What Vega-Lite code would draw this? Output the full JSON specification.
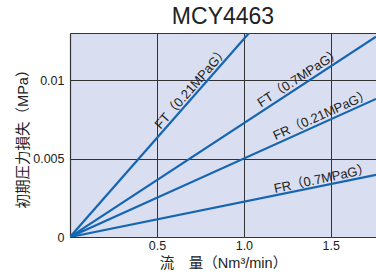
{
  "$schema": "https://vega.github.io/schema/vega-lite/v6.json",
  "autosize": "none",
  "width": 306,
  "height": 204,
  "padding": {"left": 70, "top": 33, "right": 0, "bottom": 38},
  "background": "white",
  "title": {"text": "MCY4463", "font": "Liberation Sans", "fontSize": 23, "fontWeight": "normal", "color": "#222", "offset": 4, "anchor": "middle"},
  "config": {
    "view": {"stroke": null, "fill": "#d9def0"},
    "axis": {"labelFont": "Liberation Sans", "labelFontSize": 12.5, "labelColor": "#222", "titleFont": "Liberation Sans, Noto Sans CJK JP", "titleFontSize": 14.5, "titleFontWeight": "normal", "titleColor": "#222", "gridColor": "#333", "gridWidth": 1, "gridOpacity": 1, "domainColor": "#333", "domainWidth": 1.2, "ticks": false}
  },
  "datasets": {
    "lines": [
      {"series": "FT 0.21", "q": 0, "p": 0},
      {"series": "FT 0.21", "q": 1.03, "p": 0.013},
      {"series": "FT 0.7", "q": 0, "p": 0},
      {"series": "FT 0.7", "q": 1.76, "p": 0.01276},
      {"series": "FR 0.21", "q": 0, "p": 0},
      {"series": "FR 0.21", "q": 1.76, "p": 0.0088},
      {"series": "FR 0.7", "q": 0, "p": 0},
      {"series": "FR 0.7", "q": 1.76, "p": 0.00396}
    ],
    "labels": [
      {"series": "FT 0.21", "q": 0.7, "p": 0.0095, "text": "FT（0.21MPaG）"},
      {"series": "FT 0.7", "q": 1.32, "p": 0.01015, "text": "FT（0.7MPaG）"},
      {"series": "FR 0.21", "q": 1.45, "p": 0.00777, "text": "FR（0.21MPaG）"},
      {"series": "FR 0.7", "q": 1.45, "p": 0.0037, "text": "FR（0.7MPaG）"}
    ]
  },
  "layer": [
    {
      "data": {"name": "lines"},
      "mark": {"type": "line", "color": "#1565b0", "strokeWidth": 2.2, "clip": true},
      "encoding": {
        "x": {"field": "q", "type": "quantitative", "scale": {"domain": [0, 1.76], "nice": false, "zero": true},
          "axis": {"values": [0.5, 1.0, 1.5], "format": ".1f", "labelPadding": 2, "title": "流　量（Nm³/min）", "titlePadding": 5}},
        "y": {"field": "p", "type": "quantitative", "scale": {"domain": [0, 0.013], "nice": false},
          "axis": {"values": [0, 0.005, 0.01, 0.013], "labelExpr": "datum.value == 0 ? '0' : datum.value == 0.005 ? '0.005' : datum.value == 0.01 ? '0.01' : ''", "labelPadding": 6, "title": "初期圧力損失（MPa）", "titlePadding": 2}},
        "detail": {"field": "series"}
      }
    },
    {
      "data": {"name": "labels"},
      "transform": [{"filter": "datum.series == 'FT 0.21'"}],
      "mark": {"type": "text", "angle": -49, "font": "Liberation Sans, Noto Sans CJK JP", "fontSize": 13, "color": "#222"},
      "encoding": {"x": {"field": "q", "type": "quantitative"}, "y": {"field": "p", "type": "quantitative"}, "text": {"field": "text"}}
    },
    {
      "data": {"name": "labels"},
      "transform": [{"filter": "datum.series == 'FT 0.7'"}],
      "mark": {"type": "text", "angle": -33, "font": "Liberation Sans, Noto Sans CJK JP", "fontSize": 13, "color": "#222"},
      "encoding": {"x": {"field": "q", "type": "quantitative"}, "y": {"field": "p", "type": "quantitative"}, "text": {"field": "text"}}
    },
    {
      "data": {"name": "labels"},
      "transform": [{"filter": "datum.series == 'FR 0.21'"}],
      "mark": {"type": "text", "angle": -24, "font": "Liberation Sans, Noto Sans CJK JP", "fontSize": 13, "color": "#222"},
      "encoding": {"x": {"field": "q", "type": "quantitative"}, "y": {"field": "p", "type": "quantitative"}, "text": {"field": "text"}}
    },
    {
      "data": {"name": "labels"},
      "transform": [{"filter": "datum.series == 'FR 0.7'"}],
      "mark": {"type": "text", "angle": -12, "font": "Liberation Sans, Noto Sans CJK JP", "fontSize": 13, "color": "#222"},
      "encoding": {"x": {"field": "q", "type": "quantitative"}, "y": {"field": "p", "type": "quantitative"}, "text": {"field": "text"}}
    }
  ]
}
